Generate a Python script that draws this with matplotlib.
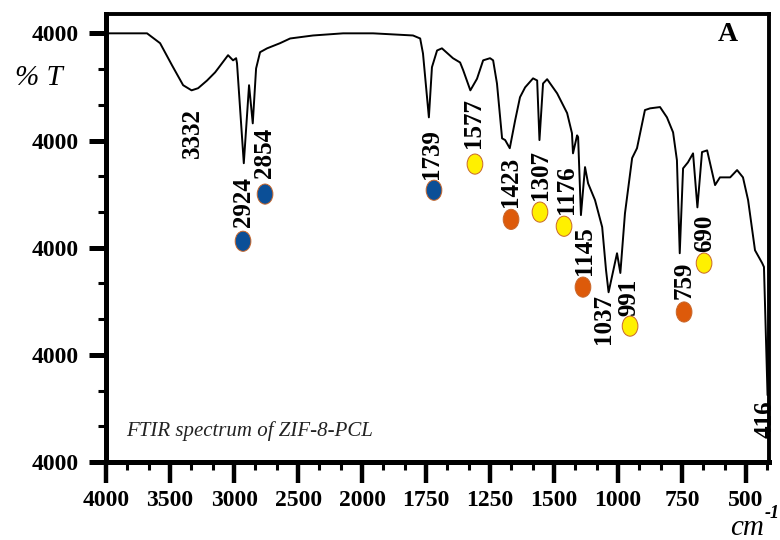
import numpy as np
import matplotlib.pyplot as plt
from matplotlib.path import Path
from matplotlib.ticker import FixedLocator, FixedFormatter
from matplotlib.transforms import Affine2D

plt.rcParams["font.family"] = ["Liberation Serif", "DejaVu Serif"]

# FTIR trace (wavenumber in cm-1, transmittance in %)
wavenumber = [4000, 3680, 3578, 3484, 3398, 3332, 3281, 3211, 3148, 3125,
              3047, 3008, 2984, 2977, 2924, 2883, 2854, 2828, 2797, 2742,
              2641, 2562, 2383, 2148, 1957, 1801, 1773, 1762, 1739, 1727,
              1707, 1688, 1645, 1617, 1605, 1577, 1551, 1527, 1500, 1488,
              1473, 1453, 1441, 1423, 1402, 1383, 1363, 1332, 1316, 1307,
              1293, 1277, 1238, 1199, 1180, 1176, 1160, 1156, 1145, 1129,
              1117, 1090, 1062, 1047, 1037, 1004, 991, 973, 945, 926,
              895, 875, 836, 809, 785, 770, 759, 746, 727, 707,
              690, 672, 652, 621, 602, 562, 535, 512, 492, 465,
              437, 430, 416, 410]
transmittance = [100.0, 100.0, 97.7, 92.5, 87.9, 86.7, 87.2, 89.0, 90.9, 91.8,
                 94.9, 93.7, 94.2, 93.0, 69.7, 87.9, 79.0, 91.8, 95.6, 96.5,
                 97.7, 98.8, 99.5, 100.0, 100.0, 99.5, 98.8, 95.3, 80.4, 92.1,
                 96.0, 96.5, 94.2, 93.2, 91.4, 86.7, 89.4, 93.7, 94.2, 93.7,
                 88.3, 75.5, 75.1, 73.2, 79.7, 85.1, 87.4, 89.5, 89.0, 75.1,
                 88.3, 89.3, 86.0, 81.4, 76.7, 72.0, 76.2, 75.8, 57.6, 68.8,
                 65.0, 61.1, 54.8, 44.8, 39.6, 48.7, 44.1, 58.0, 70.9, 73.2,
                 82.1, 82.5, 82.8, 80.4, 76.9, 70.4, 48.7, 68.5, 69.9, 72.0,
                 59.4, 72.3, 72.7, 64.6, 66.4, 66.4, 68.1, 66.4, 61.1, 49.4,
                 46.4, 45.5, 15.6, 36.6]

# peak labels
peak_text = ["3332", "2924", "2854", "1739", "1577", "1423", "1307",
             "1176", "1145", "1037", "991", "759", "690", "416"]
peak_text_wn = [3328, 2930, 2766, 1727, 1563, 1422, 1301,
                1203, 1133, 1055, 957, 742, 660, 426]
peak_text_t = [76.7, 60.6, 72.0, 71.8, 79.0, 65.3, 66.9,
               63.6, 49.4, 33.3, 38.5, 42.4, 53.4, 10.0]

# band markers
dot_wn = [2930, 2758, 1719, 1559, 1418, 1305, 1211, 1137, 953, 742, 664]
dot_t = [51.5, 62.5, 63.4, 69.5, 56.6, 58.3, 55.0, 40.8, 31.7, 35.0, 46.4]
dot_kind = ["b", "b", "b", "y", "o", "y", "y", "o", "y", "o", "y"]
kind_color = {"b": "#0b4f97", "y": "#fff000", "o": "#dd5a0a"}

x_ticks = [4000, 3500, 3000, 2500, 2000, 1750, 1500, 1250, 1000, 750, 500]
x_tick_labels = ["4000", "3500", "3000", "2500", "2000", "1750", "1250",
                 "1500", "1000", "750", "500"]
y_ticks = [0, 25, 50, 75, 100]
y_tick_labels = ["4000"] * 5


# two-range wavenumber axis: 500 cm-1 per division above 2000, 250 below
def fwd(w):
    w = np.asarray(w, dtype=float)
    return -np.where(w >= 2000, (4000 - w) / 500, 4 + (2000 - w) / 250)


def inv(p):
    p = -np.asarray(p, dtype=float)
    return np.where(p <= 4, 4000 - 500 * p, 2000 - 250 * (p - 4))


fig = plt.figure(figsize=(7.8, 5.4), dpi=100)
ax = fig.add_axes([0.136, 0.1444, 0.850, 0.8296])
ax.set_xscale("function", functions=(fwd, inv))
ax.set_xlim(4000, 410)
ax.set_ylim(0, 104.5)

ax.plot(wavenumber, transmittance, color="black", lw=1.4)

ell = Path.unit_circle().transformed(Affine2D().scale(0.78, 1.0))
ax.scatter(dot_wn, dot_t, marker=ell, s=210,
           c=[kind_color[k] for k in dot_kind],
           edgecolors="#c8662a", linewidths=0.7, zorder=3)

for txt, w, t in zip(peak_text, peak_text_wn, peak_text_t):
    ax.text(w, t, txt, rotation=90, ha="center", va="center",
            fontsize=18, fontweight="bold")

ax.text(0.03, 0.07, "FTIR spectrum of ZIF-8-PCL", transform=ax.transAxes,
        fontsize=15, fontstyle="italic", color="#222222", ha="left", va="center")
ax.text(0.938, 0.955, "A", transform=ax.transAxes, fontsize=20,
        fontweight="bold", ha="center", va="center")

# ticks
ax.xaxis.set_major_locator(FixedLocator(x_ticks))
ax.xaxis.set_major_formatter(FixedFormatter(x_tick_labels))
ax.xaxis.set_minor_locator(FixedLocator(inv(-np.arange(0, 10.4, 1 / 3))))
ax.yaxis.set_major_locator(FixedLocator(y_ticks))
ax.yaxis.set_major_formatter(FixedFormatter(y_tick_labels))
ax.yaxis.set_minor_locator(FixedLocator(np.arange(0, 101, 25 / 3)))

ax.tick_params(axis="x", which="major", length=15, width=3.2, pad=5,
               labelsize=17)
ax.tick_params(axis="x", which="minor", length=6, width=2.2)
ax.tick_params(axis="y", which="major", length=12, width=3.6, pad=8,
               labelsize=17)
ax.tick_params(axis="y", which="minor", length=6, width=2.2)
for lab in ax.get_xticklabels() + ax.get_yticklabels():
    lab.set_fontweight("bold")

ax.spines["left"].set_linewidth(3.6)
ax.spines["bottom"].set_linewidth(3.6)
ax.spines["top"].set_linewidth(2.8)
ax.spines["right"].set_linewidth(2.8)

fig.text(0.019, 0.855, "% T", fontsize=21, fontstyle="italic",
         ha="left", va="center")
fig.text(0.936, 0.010, "cm", fontsize=21, fontstyle="italic",
         ha="left", va="baseline")
fig.text(0.999, 0.040, "-1", fontsize=13, fontstyle="italic",
         fontweight="bold", ha="right", va="baseline")

fig.savefig("out.png", dpi=100)
